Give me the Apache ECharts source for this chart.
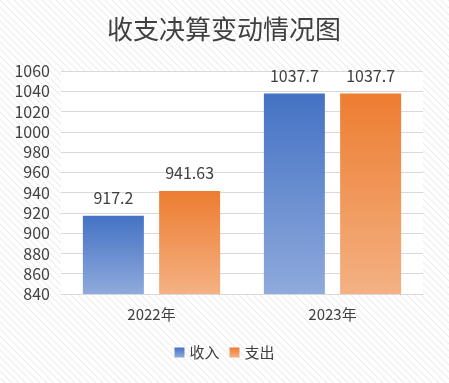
<!DOCTYPE html>
<html><head><meta charset="utf-8">
<script src="https://cdn.jsdelivr.net/npm/echarts@6/dist/echarts.min.js"></script>
<style>html,body{margin:0;padding:0;background:#fff}#c{width:449px;height:383px}</style>
</head><body><div id="c"></div>
<script>
const title = '收支决算变动情况图';
const categories = ['2022年', '2023年'];
const incomeName = '收入';
const expenseName = '支出';
const incomeValues = [917.2, 1037.7];
const expenseValues = [941.63, 1037.7];
const yMin = 840, yMax = 1060, yInterval = 20;

function stripePattern() {
  const c = document.createElement('canvas');
  c.width = 7; c.height = 7;
  const g = c.getContext('2d');
  g.fillStyle = '#ffffff'; g.fillRect(0, 0, 7, 7);
  g.strokeStyle = '#ededed'; g.lineWidth = 1.2;
  g.beginPath();
  g.moveTo(-1, -1); g.lineTo(8, 8);
  g.moveTo(-8, -1); g.lineTo(1, 8);
  g.moveTo(6, -1); g.lineTo(15, 8);
  g.stroke();
  return c;
}
const font = '"Noto Sans CJK SC", "Microsoft YaHei", sans-serif';
const chart = echarts.init(document.getElementById('c'));
chart.setOption({
  backgroundColor: { image: stripePattern(), repeat: 'repeat' },
  textStyle: { fontFamily: font },
  title: { text: title, left: 102, top: 11,
    textStyle: { fontSize: 26, fontWeight: 'normal', color: '#404040', fontFamily: font } },
  legend: { bottom: 18, left: 'center', itemWidth: 10, itemHeight: 10, itemGap: 10,
    icon: 'rect', textStyle: { fontSize: 15, color: '#404040', fontFamily: font },
    data: [incomeName, expenseName] },
  grid: { left: 61, right: 26, top: 71, bottom: 89, show: true, backgroundColor: '#fff', borderWidth: 0, containLabel: false },
  xAxis: { type: 'category', data: categories,
    axisLine: { lineStyle: { color: '#d9d9d9' } }, axisTick: { show: false },
    axisLabel: { fontSize: 15, color: '#404040', margin: 13, fontFamily: font } },
  yAxis: { type: 'value', min: yMin, max: yMax, interval: yInterval,
    axisLine: { show: false }, axisTick: { show: false },
    splitLine: { lineStyle: { color: '#d9d9d9' } },
    axisLabel: { fontSize: 16, color: '#404040', margin: 11, fontFamily: font,
      formatter: function (v) { return String(v); } } },
  series: [
    { name: incomeName, type: 'bar', data: incomeValues, barWidth: 61, barGap: '25%',
      itemStyle: { color: new echarts.graphic.LinearGradient(0, 0, 0, 1, [
        { offset: 0, color: '#4472C4' }, { offset: 1, color: '#8FAADC' }]) },
      label: { show: true, position: 'top', distance: 10, fontSize: 16, color: '#404040', fontFamily: font } },
    { name: expenseName, type: 'bar', data: expenseValues, barWidth: 61,
      itemStyle: { color: new echarts.graphic.LinearGradient(0, 0, 0, 1, [
        { offset: 0, color: '#ED7D31' }, { offset: 1, color: '#F4B183' }]) },
      label: { show: true, position: 'top', distance: 10, fontSize: 16, color: '#404040', fontFamily: font } }
  ]
});
</script></body></html>
